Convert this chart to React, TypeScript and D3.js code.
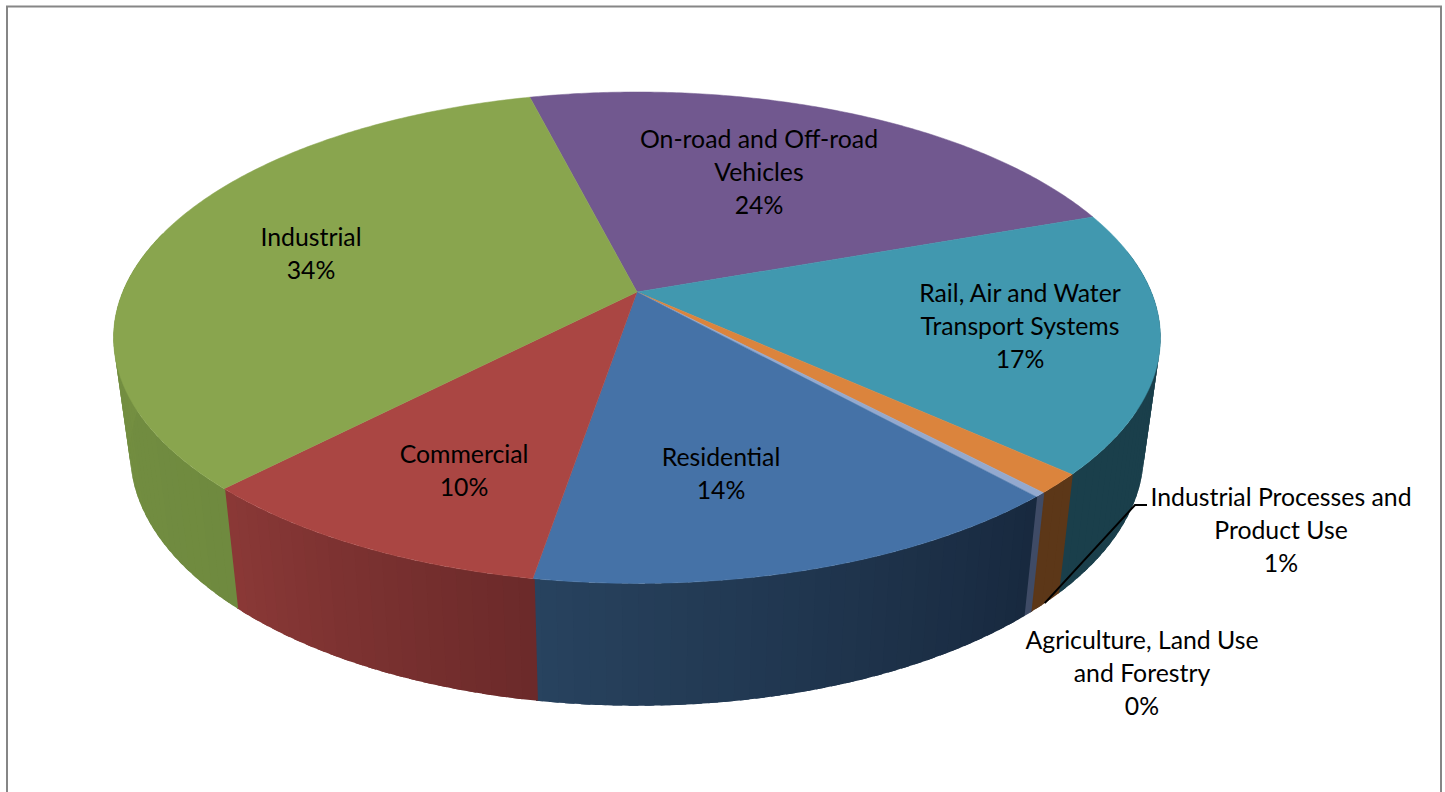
import React from "react";
import * as d3 from "d3";

// Share of emissions by sector, clockwise from the back of the pie.
const sectors = [
  "On-road and Off-road Vehicles",
  "Rail, Air and Water Transport Systems",
  "Industrial Processes and Product Use",
  "Agriculture, Land Use and Forestry",
  "Residential",
  "Commercial",
  "Industrial",
];
const shares = [23.5, 17.2, 1.3, 0.3, 14.3, 9.6, 33.8];
const topColors = ["#71588f", "#4198af", "#db843d", "#93a9cf", "#4572a7", "#aa4643", "#89a54e"];
// Wall shading per sector: [first edge, last edge] going clockwise.
const wallColors = [
  ["#71588f", "#71588f"],
  ["#1a3f4b", "#1a3f4b"],
  ["#5c3718", "#5c3718"],
  ["#3f4b66", "#3f4b66"],
  ["#18293f", "#28435f"],
  ["#6c2a2a", "#8b3937"],
  ["#6f8a3f", "#7d9846"],
];
const labelLines = [
  ["On-road and Off-road", "Vehicles"],
  ["Rail, Air and Water", "Transport Systems"],
  ["Industrial Processes and", "Product Use"],
  ["Agriculture, Land Use", "and Forestry"],
  ["Residential"],
  ["Commercial"],
  ["Industrial"],
];
const labelCentres = [
  [759, 138],
  [1020, 292],
  [1281, 496],
  [1142, 639],
  [721, 456],
  [464, 453],
  [311, 236],
];

const WIDTH = 1445;
const HEIGHT = 792;
const LINE_STEP = 33;

// Perspective disc: a unit circle in the pie's plane, foreshortened towards the back.
const KEEL = 0.186;
const topDisc = { ax: 637, ay: 292, a: 514.3, b: 237.2 };
const bottomDisc = { ax: 637, ay: 406.2, a: 498, b: 243.8 };

type Disc = typeof topDisc;

function project(disc: Disc, angle: number): [number, number] {
  const X = Math.sin(angle);
  const Y = Math.cos(angle);
  const w = 1 + KEEL * Y;
  return [disc.ax + (disc.a * X) / w, disc.ay - (disc.b * Y) / w];
}

const START = (-14.24 * Math.PI) / 180;
const pie = d3
  .pie<number>()
  .sort(null)
  .startAngle(START)
  .endAngle(START + 2 * Math.PI);
const arcs = pie(shares);

const pathLine = d3.line<[number, number]>();

function rim(disc: Disc, from: number, to: number): [number, number][] {
  const n = Math.max(2, Math.ceil(Math.abs(to - from) / 0.01));
  return d3.range(n + 1).map((i) => project(disc, from + ((to - from) * i) / n));
}

const WALL_FROM = (80 * Math.PI) / 180;
const WALL_TO = (285 * Math.PI) / 180;
const STRIP = (1.5 * Math.PI) / 180;
const SEAM = 0.003;

type Strip = { d: string; fill: string };

// Builds the outer wall as overlapping strips, shaded along each sector's span.
function wallStrips(): Strip[] {
  const strips: Strip[] = [];
  arcs.forEach((slice, i) => {
    const shade = d3
      .scaleLinear<string>()
      .domain([slice.startAngle, slice.endAngle])
      .range(wallColors[i])
      .interpolate(d3.interpolateRgb);
    const from = Math.max(slice.startAngle, WALL_FROM);
    const to = Math.min(slice.endAngle, WALL_TO);
    for (let t = from; t < to; t += STRIP) {
      const t0 = t - SEAM;
      const t1 = Math.min(t + STRIP * 1.5, to);
      const p = [...rim(topDisc, t0, t1), ...rim(bottomDisc, t1, t0)] as [number, number][];
      strips.push({ d: pathLine(p) + "Z", fill: shade(t) });
    }
  });
  return strips;
}

const strips = wallStrips();

const slicePaths = arcs.map((slice) => {
  const pts = rim(topDisc, slice.startAngle, slice.endAngle);
  return pathLine([[topDisc.ax, topDisc.ay], ...pts]) + "Z";
});

// Leader for the narrow Industrial Processes slice, starting on its lower rim.
const leaderSlice = arcs[2];
const leaderStart = project(bottomDisc, (leaderSlice.startAngle + leaderSlice.endAngle) / 2);
const leaderPoints: [number, number][] = [leaderStart, [1135, 505], [1147, 505]];

const percent = (v: number) => `${Math.round(v)}%`;

export default function App() {
  return (
    <svg
      width={WIDTH}
      height={HEIGHT}
      viewBox={`0 0 ${WIDTH} ${HEIGHT}`}
      style={{ position: "fixed", left: 0, top: 0, background: "#fff" }}
    >
      <rect x={7} y={6.5} width={1434} height={800} fill="#fff" stroke="#868686" strokeWidth={2} />
      <g>
        {strips.map((s, i) => (
          <path key={i} d={s.d} fill={s.fill} />
        ))}
      </g>
      <g>
        {slicePaths.map((d, i) => (
          <path key={sectors[i]} d={d} fill={topColors[i]} stroke={topColors[i]} strokeWidth={0.5} />
        ))}
      </g>
      <path d={pathLine(leaderPoints) ?? ""} fill="none" stroke="#000" strokeWidth={2} />
      <g fontFamily="Lato, 'Open Sans', sans-serif" fontSize={24.8} fill="#000" textAnchor="middle">
        {sectors.map((name, i) => {
          const [x, y] = labelCentres[i];
          const lines = [...labelLines[i], percent(shares[i])];
          return (
            <text key={name} x={x} y={y} dominantBaseline="central">
              {lines.map((line, j) => (
                <tspan key={j} x={x} y={y + j * LINE_STEP}>
                  {line}
                </tspan>
              ))}
            </text>
          );
        })}
      </g>
    </svg>
  );
}
